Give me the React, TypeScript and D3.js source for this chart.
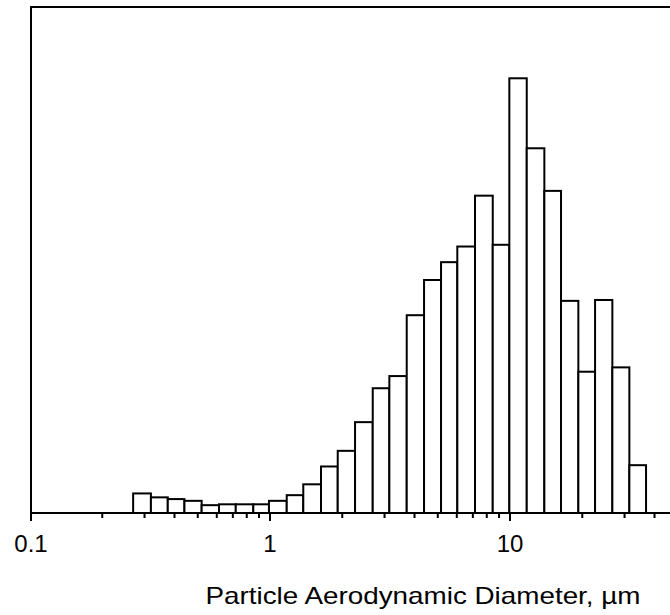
import React from "react";
import * as d3 from "d3";

// Bin edges (particle aerodynamic diameter, µm)
const binEdges = [
  0.269, 0.319, 0.375, 0.44, 0.519, 0.613, 0.72, 0.852, 0.99, 1.174, 1.376,
  1.631, 1.915, 2.261, 2.679, 3.142, 3.712, 4.383, 5.159, 6.031, 7.147, 8.472,
  9.934, 11.74, 13.9, 16.31, 19.26, 22.61, 26.69, 31.42, 36.87,
];

// Relative frequency per bin (max = 100)
const binValues = [
  4.5, 3.6, 3.2, 2.8, 1.8, 2.0, 2.0, 2.0, 2.8, 4.1, 6.6, 10.7, 14.3, 20.9,
  28.7, 31.5, 45.5, 53.6, 57.7, 61.3, 73.0, 61.7, 100, 83.9, 74.1, 48.8, 32.5,
  49.0, 33.5, 11.0,
];

const majorTicks = [0.1, 1, 10];
const majorTickLabels = ["0.1", "1", "10"];
const minorTicks = [
  0.2, 0.3, 0.4, 0.5, 0.6, 0.7, 0.8, 0.9, 2, 3, 4, 5, 6, 7, 8, 9, 20, 30, 40,
];
const xTitle = "Particle Aerodynamic Diameter, µm";

const xDomain: [number, number] = [0.1, 46.4];
const yDomain: [number, number] = [0, 116.4];

export default function App() {
  const W = 670;
  const H = 615;
  const left = 30;
  const top = 7;
  const bottom = 513;

  const x = d3.scaleLog().domain(xDomain).range([left, W]);
  const y = d3.scaleLinear().domain(yDomain).range([bottom, top]);

  const font = "'Liberation Sans', Arial, sans-serif";

  return (
    <svg
      width={W}
      height={H}
      style={{ position: "absolute", left: 0, top: 0, background: "#fff" }}
    >
      <rect x={0} y={0} width={W} height={H} fill="#fff" />
      {binValues.map((v, i) => {
        const x0 = x(binEdges[i]);
        const x1 = x(binEdges[i + 1]);
        return (
          <rect
            key={i}
            x={x0}
            y={y(v)}
            width={x1 - x0}
            height={y(0) - y(v)}
            fill="#fff"
            stroke="#000"
            strokeWidth={2}
          />
        );
      })}
      {/* frame */}
      <line x1={left + 1} x2={left + 1} y1={top} y2={bottom + 1} stroke="#000" strokeWidth={2} />
      <line x1={left} x2={W} y1={top} y2={top} stroke="#000" strokeWidth={2} />
      <line x1={left} x2={W} y1={bottom} y2={bottom} stroke="#000" strokeWidth={2} />
      {/* ticks */}
      {majorTicks.map((t) => (
        <line key={"M" + t} x1={x(t) + (t === 0.1 ? 1 : 0)} x2={x(t) + (t === 0.1 ? 1 : 0)} y1={bottom} y2={bottom + 8} stroke="#000" strokeWidth={2} />
      ))}
      {minorTicks.map((t) => (
        <line key={"m" + t} x1={x(t)} x2={x(t)} y1={bottom} y2={bottom + 5} stroke="#000" strokeWidth={2} />
      ))}
      {majorTicks.map((t, i) => (
        <text
          key={"l" + t}
          x={x(t) + (t === 0.1 ? 1 : 0)}
          y={552}
          textAnchor="middle"
          fontFamily={font}
          fontSize={24}
          fill="#000"
        >
          {majorTickLabels[i]}
        </text>
      ))}
      <text
        x={423}
        y={604}
        textAnchor="middle"
        fontFamily={font}
        fontSize={24}
        textLength={435}
        lengthAdjust="spacingAndGlyphs"
        fill="#000"
      >
        {xTitle}
      </text>
    </svg>
  );
}
